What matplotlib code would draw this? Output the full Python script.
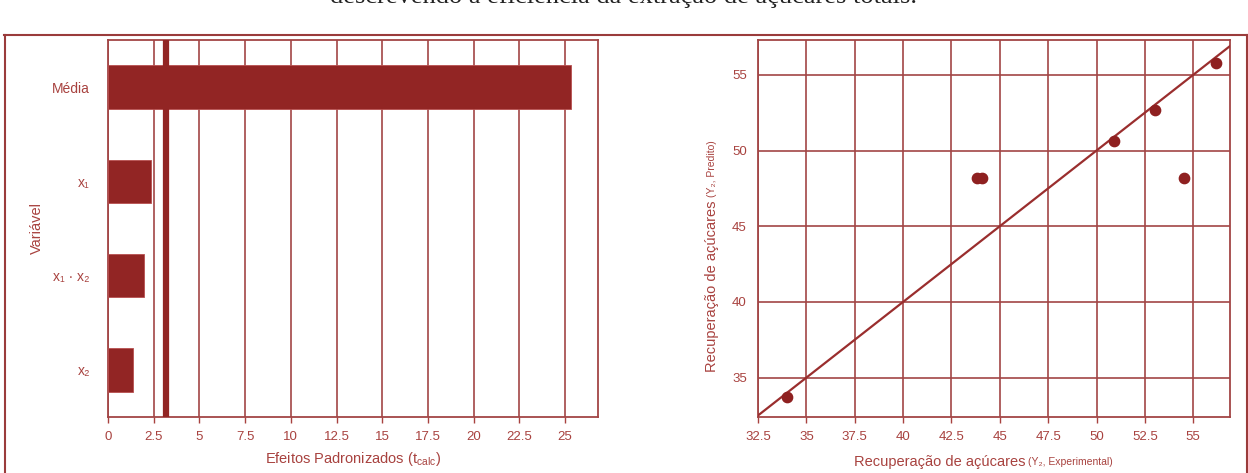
import matplotlib
matplotlib.use('Agg')
import matplotlib.pyplot as plt
from matplotlib.lines import Line2D
import numpy as np

# dados - efeitos padronizados
variaveis = ['x₂', 'x₁ · x₂', 'x₁', 'Média']
efeitos = [1.37, 1.97, 2.35, 25.3]
t_critico = 3.18
efeitos_ticks = [0, 2.5, 5, 7.5, 10, 12.5, 15, 17.5, 20, 22.5, 25]

# dados - predito vs experimental
y_exp = [34.0, 43.8, 44.1, 50.9, 53.0, 54.5, 56.2]
y_pred = [33.7, 48.2, 48.2, 50.6, 52.7, 48.2, 55.8]
exp_ticks = [32.5, 35, 37.5, 40, 42.5, 45, 47.5, 50, 52.5, 55]
pred_ticks = [35, 40, 45, 50, 55]

legenda = 'descrevendo a eficiência da extração de açúcares totais.'

# cores
bar_cor = '#922524'
grid_cor = '#a24545'
txt_cor = '#a8423f'
frame_cor = '#9a3b3b'

plt.rcParams['font.family'] = ['Liberation Sans', 'DejaVu Sans']
plt.rcParams['mathtext.fontset'] = 'custom'
plt.rcParams['mathtext.rm'] = 'Liberation Sans'

W, H = 1248, 473
fig = plt.figure(figsize=(W / 100, H / 100), dpi=100)


def fx(px):
    return px / W


def fy(py):
    return 1 - py / H


# legenda cortada no topo
fig.text(0.5, fy(-3), legenda, ha='center', va='center', fontsize=19,
         family='Liberation Serif', color='#222222')

# moldura
fig.add_artist(Line2D([fx(4), 1.0], [fy(35), fy(35)], color=frame_cor, lw=1.5))
fig.add_artist(Line2D([fx(5), fx(5)], [fy(35), 0], color=frame_cor, lw=1.5))
fig.add_artist(Line2D([fx(1246.5), fx(1246.5)], [fy(35), 0], color=frame_cor, lw=1.5))


def estilo(ax):
    for s in ax.spines.values():
        s.set_color(grid_cor)
        s.set_linewidth(1.3)
    ax.tick_params(axis='x', colors=txt_cor, length=4, width=1, labelsize=9.5, pad=6)
    ax.tick_params(axis='y', colors=txt_cor, length=0, labelsize=9.5, pad=8)
    ax.set_axisbelow(True)


# grafico de barras (Pareto)
ax1 = fig.add_axes([fx(108), fy(417), fx(598) - fx(108), fy(40) - fy(417)])
ypos = np.arange(len(variaveis))
ax1.barh(ypos, efeitos, height=0.46, color=bar_cor, edgecolor='#b85050', lw=0.6, zorder=3)
ax1.axvline(t_critico, color=bar_cor, lw=4.5, zorder=4)
ax1.set_xlim(0, 26.8)
ax1.set_ylim(-0.5, 3.5)
ax1.set_xticks(efeitos_ticks)
ax1.set_xticklabels([('%g' % t) for t in efeitos_ticks])
ax1.set_yticks(ypos)
ax1.set_yticklabels(variaveis)
ax1.xaxis.grid(True, color=grid_cor, lw=1.2)
estilo(ax1)
ax1.tick_params(axis='y', pad=13, labelsize=10)
ax1.set_xlabel(r'Efeitos Padronizados (t$_{\mathrm{calc}}$)', color=txt_cor, fontsize=10.5, labelpad=5)
ax1.set_ylabel('Variável', color=txt_cor, fontsize=10.5, labelpad=6)

# grafico predito x experimental
ax2 = fig.add_axes([fx(758), fy(417), fx(1230) - fx(758), fy(40) - fy(417)])
ax2.set_xlim(32.5, 56.9)
ax2.set_ylim(32.4, 57.3)
ax2.axline((40, 40), slope=1, color='#9a2e2e', lw=1.6, zorder=3)
ax2.scatter(y_exp, y_pred, s=55, color='#8e2020', zorder=4)
ax2.set_xticks(exp_ticks)
ax2.set_xticklabels([('%g' % t) for t in exp_ticks])
ax2.set_yticks(pred_ticks)
ax2.grid(True, color=grid_cor, lw=1.2)
estilo(ax2)

# rotulos com parte menor
fig.text(fx(1025), fy(462), 'Recuperação de açúcares', ha='right', va='center',
         color=txt_cor, fontsize=10.5)
fig.text(fx(1028), fy(462), '(Y₂, Experimental)', ha='left', va='center',
         color=txt_cor, fontsize=7.5)
fig.text(fx(712), fy(200), 'Recuperação de açúcares', ha='center', va='top',
         rotation=90, color=txt_cor, fontsize=10.5)
fig.text(fx(712), fy(197), '(Y₂, Predito)', ha='center', va='bottom',
         rotation=90, color=txt_cor, fontsize=7.5)

plt.savefig('out.png', dpi=100)
